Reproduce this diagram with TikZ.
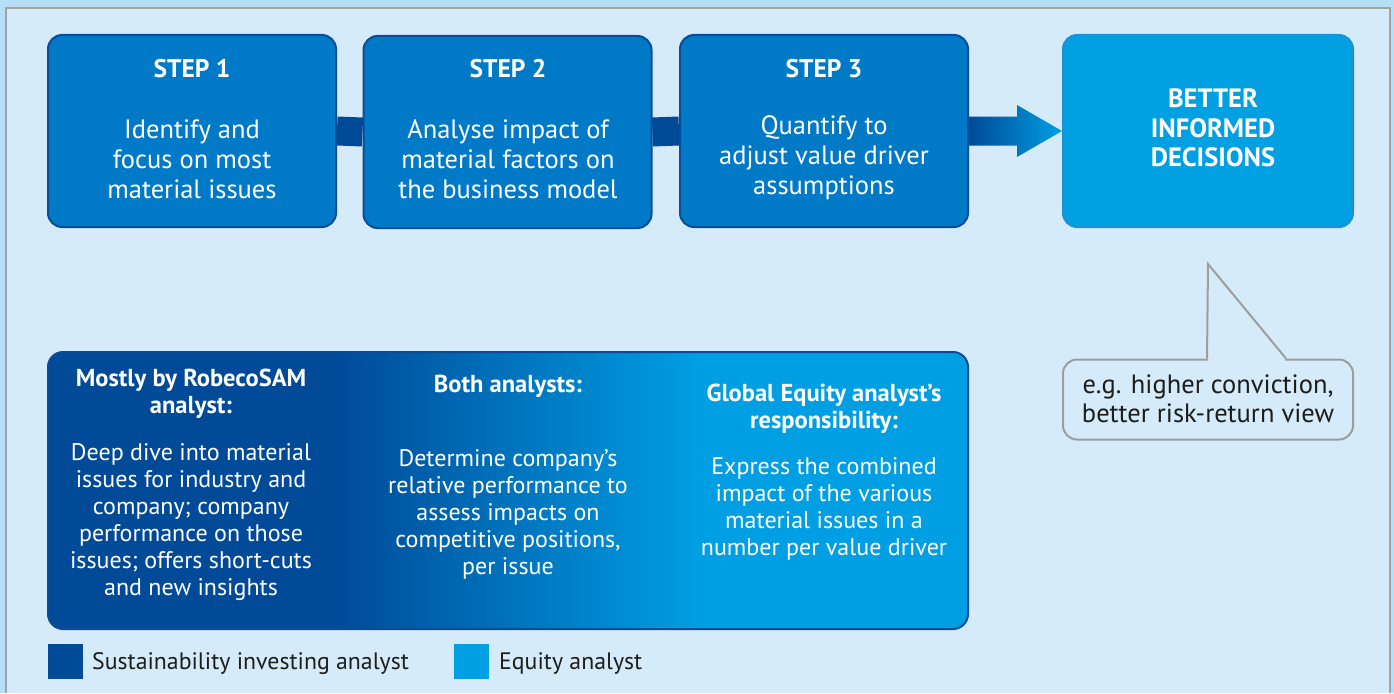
\documentclass[tikz,border=0pt]{standalone}
\usepackage{fontspec}
\setmainfont{PT Sans}
\usetikzlibrary{calc}
\definecolor{stripbg}{HTML}{B5DFF6}
\definecolor{panelbg}{HTML}{D5EBFA}
\definecolor{panelline}{HTML}{A3A3A3}
\definecolor{stepfill}{HTML}{0079C6}
\definecolor{stepline}{HTML}{0A4C9A}
\definecolor{betterfill}{HTML}{00A0E2}
\definecolor{betterline}{HTML}{1E90D4}
\definecolor{sidark}{HTML}{004A98}
\definecolor{eqlight}{HTML}{009FE3}
\definecolor{bubbleline}{HTML}{9D9D9D}
\definecolor{txtdark}{HTML}{1D1D1B}
\pgfdeclarehorizontalshading{teamgrad}{100bp}{color(0bp)=(sidark); color(40.5bp)=(sidark); color(60.5bp)=(eqlight); color(100bp)=(eqlight)}
\tikzset{
  stepbox/.style={draw=stepline, fill=stepfill, line width=2pt, rounded corners=14pt, minimum width=288pt, minimum height=192pt, inner sep=0pt},
  betterbox/.style={draw=betterline, fill=betterfill, line width=2pt, rounded corners=14pt, minimum width=290pt, minimum height=192pt, inner sep=0pt},
  steptitle/.style={text=white, font=\fontsize{25.5}{30}\selectfont\bfseries, inner sep=0pt},
  stepbody/.style={text=white, font=\fontsize{26.5}{30}\selectfont, align=center, inner sep=0pt},
  betterbody/.style={text=white, font=\fontsize{26.5}{29.5}\selectfont\bfseries, align=center, inner sep=0pt},
  colhead/.style={text=white, font=\fontsize{24.5}{27}\selectfont\bfseries, align=center, inner sep=0pt},
  colbody/.style={text=white, font=\fontsize{24}{27}\selectfont, align=center, inner sep=0pt},
  bubbletext/.style={text=txtdark, font=\fontsize{26.5}{29}\selectfont, align=center, inner sep=0pt},
  legendtext/.style={text=txtdark, font=\fontsize{23.8}{27}\selectfont, anchor=west, inner sep=0pt},
  connector/.style={draw=sidark, line width=29pt},
}
\begin{document}
\begin{tikzpicture}[x=1pt, y=-1pt]
\useasboundingbox (0,0) rectangle (1394,693);
% background
\fill[stripbg] (0,0) rectangle (1394,693);
\fill[panelbg] (6,8) rectangle (1390,693);
\draw[panelline, line width=1.5pt] (6,693) -- (6,8) -- (1390,8) -- (1390,693);

% step boxes
\node[stepbox] (s1) at (192,131) {};
\node[stepbox] (s2) at (507.5,132) {};
\node[stepbox] (s3) at (824,131) {};
\node[betterbox] (b) at (1208,131) {};

% connectors
\draw[connector] (s1.east) -- (s2.west);
\draw[connector] (s2.east) -- (s3.west);
\shade[left color=sidark, right color=eqlight]
  ($(s3.east)+(0,-14.5)$) -- ($(b.west)+(-45,-14.5)$) -- ($(b.west)+(-45,-26)$) -- (b.west)
  -- ($(b.west)+(-45,26)$) -- ($(b.west)+(-45,14.5)$) -- ($(s3.east)+(0,14.5)$) -- cycle;

% step texts
\node[steptitle] (s1t) at (192,69) {STEP 1};
\node[stepbody] (s1b) at (192,159) {Identify and\\focus on most\\material issues};
\node[steptitle] (s2t) at (508,69) {STEP 2};
\node[stepbody] (s2b) at (508,159) {Analyse impact of\\material factors on\\the business model};
\node[steptitle] (s3t) at (824,69) {STEP 3};
\node[stepbody] (s3b) at (824,158) {Quantify to\\adjust value driver\\assumptions};
\node[betterbody] (bt) at (1213,128) {BETTER\\INFORMED\\DECISIONS};

% analysis box
\node[draw=stepline, line width=2pt, rounded corners=15pt, shade, shading=teamgrad,
      minimum width=920pt, minimum height=277pt, inner sep=0pt] (an) at (508,490.5) {};
\node[colhead] (c1h) at (191,394) {Mostly by RobecoSAM\\analyst:};
\node[colbody] (c1b) at (191,522.5) {Deep dive into material\\issues for industry and\\company; company\\performance on those\\issues; offers short-cuts\\and new insights};
\node[colhead] (c2h) at (508,386) {Both analysts:};
\node[colbody] (c2b) at (508,514.5) {Determine company’s\\relative performance to\\assess impacts on\\competitive positions,\\per issue};
\node[colhead] (c3h) at (824,408.5) {Global Equity analyst’s\\responsibility:};
\node[colbody] (c3b) at (824,509) {Express the combined\\impact of the various\\material issues in a\\number per value driver};

% speech bubble
\node[draw=bubbleline, line width=2pt, fill=panelbg, rounded corners=14pt,
      minimum width=290pt, minimum height=80pt, inner sep=0pt] (bub) at (1208,399.5) {};
\coordinate (tip) at (1208,264);
\fill[panelbg] ($(bub.north west)+(146,-3)$) rectangle ($(bub.north west)+(223,3)$);
\draw[bubbleline, line width=2pt, line join=miter] ($(bub.north west)+(145,0)$) -- (tip) -- ($(bub.north west)+(224,0)$);
\node[bubbletext] (bubt) at (1208,398.5) {e.g. higher conviction,\\better risk-return view};

% legend
\node[fill=sidark, minimum width=35pt, minimum height=35pt, inner sep=0pt] (lg1) at (65,661) {};
\node[legendtext] (lg1t) at (92,664) {Sustainability investing analyst};
\node[fill=eqlight, minimum width=35pt, minimum height=35pt, inner sep=0pt] (lg2) at (471.5,661) {};
\node[legendtext] (lg2t) at (499,664) {Equity analyst};
\end{tikzpicture}
\end{document}
